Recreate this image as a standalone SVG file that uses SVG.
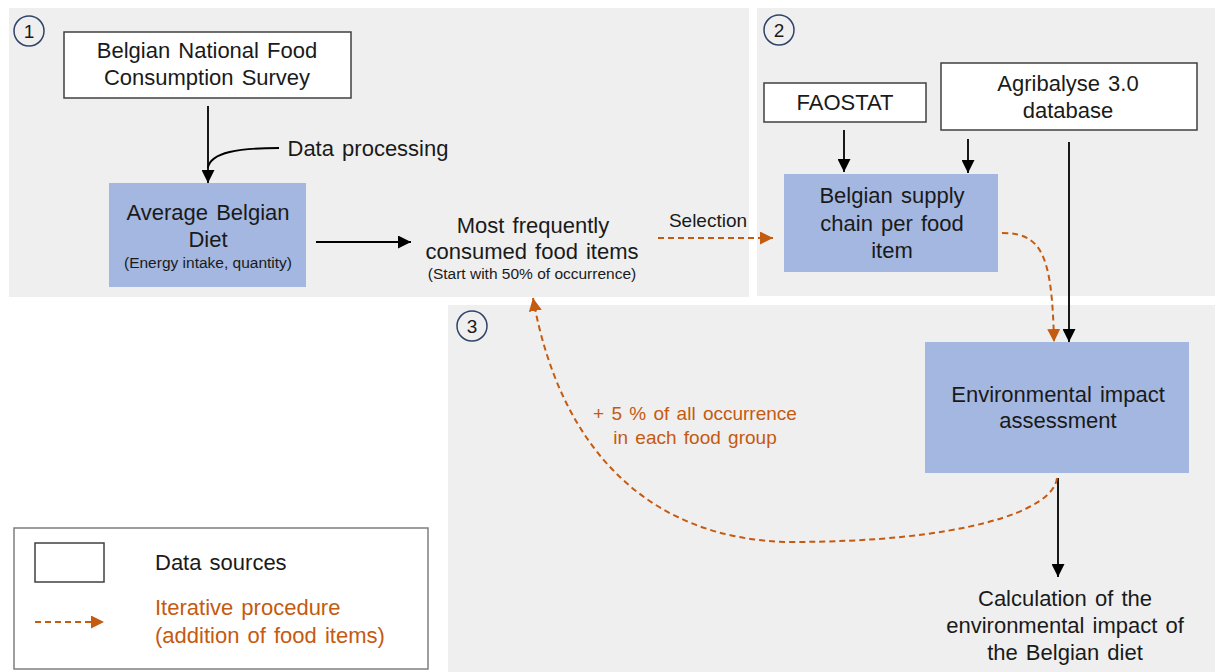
<svg xmlns="http://www.w3.org/2000/svg" width="1215" height="672" viewBox="0 0 1215 672">
<style>
text{font-family:"Liberation Sans",Arial,sans-serif;fill:#1a1a1a;text-anchor:middle}
.t{font-size:22px;word-spacing:2px}
.s{font-size:15.5px}
.o{fill:#c55a11}
.panel{fill:#efefef}
.src{fill:#fff;stroke:#404040;stroke-width:1.5}
.proc{fill:#a3b7e0}
.num{fill:none;stroke:#2f4468;stroke-width:1.5}
.ln{fill:none;stroke:#000;stroke-width:1.8}
.dash{fill:none;stroke:#c55a11;stroke-width:2;stroke-dasharray:6 4}
</style>
<defs>
<marker id="ab" viewBox="0 0 10 10" refX="10" refY="5" markerWidth="13" markerHeight="13" markerUnits="userSpaceOnUse" orient="auto"><path d="M0,0L10,5L0,10z" fill="#000"/></marker>
<marker id="ao" viewBox="0 0 10 10" refX="10" refY="5" markerWidth="13" markerHeight="13" markerUnits="userSpaceOnUse" orient="auto"><path d="M0,0L10,5L0,10z" fill="#c55a11"/></marker>
</defs>
<rect width="1215" height="672" fill="#fff"/>
<g id="panels">
<rect class="panel" x="9" y="8" width="740" height="289"/>
<rect class="panel" x="757" y="8" width="458" height="288"/>
<rect class="panel" x="448" y="305" width="767" height="367"/>
<circle class="num" cx="29" cy="31" r="15"/><text x="29" y="38" style="font-size:19px">1</text>
<circle class="num" cx="779" cy="30" r="15"/><text x="779" y="37" style="font-size:19px">2</text>
<circle class="num" cx="472" cy="326" r="15"/><text x="472" y="333" style="font-size:19px">3</text>
</g>
<g id="connectors">
<line class="ln" x1="208" y1="106" x2="208" y2="183" marker-end="url(#ab)"/>
<path class="ln" d="M279,148 C240,148 210,152 208,168"/>
<line class="ln" x1="316" y1="242" x2="411" y2="242" marker-end="url(#ab)"/>
<line class="dash" x1="658" y1="238" x2="773" y2="238" marker-end="url(#ao)"/>
<line class="ln" x1="844" y1="130" x2="844" y2="172" marker-end="url(#ab)"/>
<line class="ln" x1="968" y1="139" x2="968" y2="173" marker-end="url(#ab)"/>
<line class="ln" x1="1069" y1="142" x2="1069" y2="342" marker-end="url(#ab)"/>
<path class="dash" d="M1002,233 C1042,233 1052,255 1054,342" marker-end="url(#ao)"/>
<line class="ln" x1="1058" y1="478" x2="1058" y2="577" marker-end="url(#ab)"/>
<path class="dash" d="M1057,478 C1053,512 960,542 790,542 C650,540 560,450 533,298" marker-end="url(#ao)"/>
</g>
<g id="survey">
<rect class="src" x="64" y="32" width="287" height="66"/>
<text class="t" x="207" y="58">Belgian National Food</text>
<text class="t" x="207" y="85">Consumption Survey</text>
</g>
<g id="data-processing"><text class="t" x="368" y="156">Data processing</text></g>
<g id="average-diet">
<rect class="proc" x="109" y="183" width="197" height="104"/>
<text class="t" x="208" y="220">Average Belgian</text>
<text class="t" x="208" y="247">Diet</text>
<text class="s" x="208" y="268">(Energy intake, quantity)</text>
</g>
<g id="most-frequent">
<text class="t" x="533" y="233">Most frequently</text>
<text class="t" x="532" y="259">consumed food items</text>
<text class="s" x="532" y="279">(Start with 50% of occurrence)</text>
</g>
<g id="selection"><text x="708" y="227" style="font-size:19px">Selection</text></g>
<g id="faostat">
<rect class="src" x="764" y="83" width="162" height="39"/>
<text class="t" x="845" y="110">FAOSTAT</text>
</g>
<g id="agribalyse">
<rect class="src" x="941" y="63" width="256" height="67"/>
<text class="t" x="1068" y="91">Agribalyse 3.0</text>
<text class="t" x="1068" y="118">database</text>
</g>
<g id="supply-chain">
<rect class="proc" x="784" y="174" width="214" height="98"/>
<text class="t" x="892" y="203">Belgian supply</text>
<text class="t" x="892" y="231">chain per food</text>
<text class="t" x="892" y="258">item</text>
</g>
<g id="env-impact">
<rect class="proc" x="925" y="342" width="264" height="131"/>
<text class="t" x="1058" y="402">Environmental impact</text>
<text class="t" x="1058" y="428">assessment</text>
</g>
<g id="iteration-label">
<text class="o" x="695" y="420" style="font-size:19px;word-spacing:2px">+ 5 % of all occurrence</text>
<text class="o" x="695" y="444" style="font-size:19px;word-spacing:2px">in each food group</text>
</g>
<g id="calculation">
<text class="t" x="1065" y="606">Calculation of the</text>
<text class="t" x="1065" y="633">environmental impact of</text>
<text class="t" x="1065" y="660">the Belgian diet</text>
</g>
<g id="legend">
<rect x="14" y="528" width="414" height="141" fill="#fff" stroke="#7f7f7f" stroke-width="1.5"/>
<rect class="src" x="35" y="543" width="69" height="39"/>
<text class="t" x="155" y="570" style="text-anchor:start">Data sources</text>
<line class="dash" x1="35" y1="622" x2="104" y2="622" marker-end="url(#ao)"/>
<text class="t o" x="155" y="615" style="text-anchor:start">Iterative procedure</text>
<text class="t o" x="155" y="643" style="text-anchor:start">(addition of food items)</text>
</g>
</svg>
